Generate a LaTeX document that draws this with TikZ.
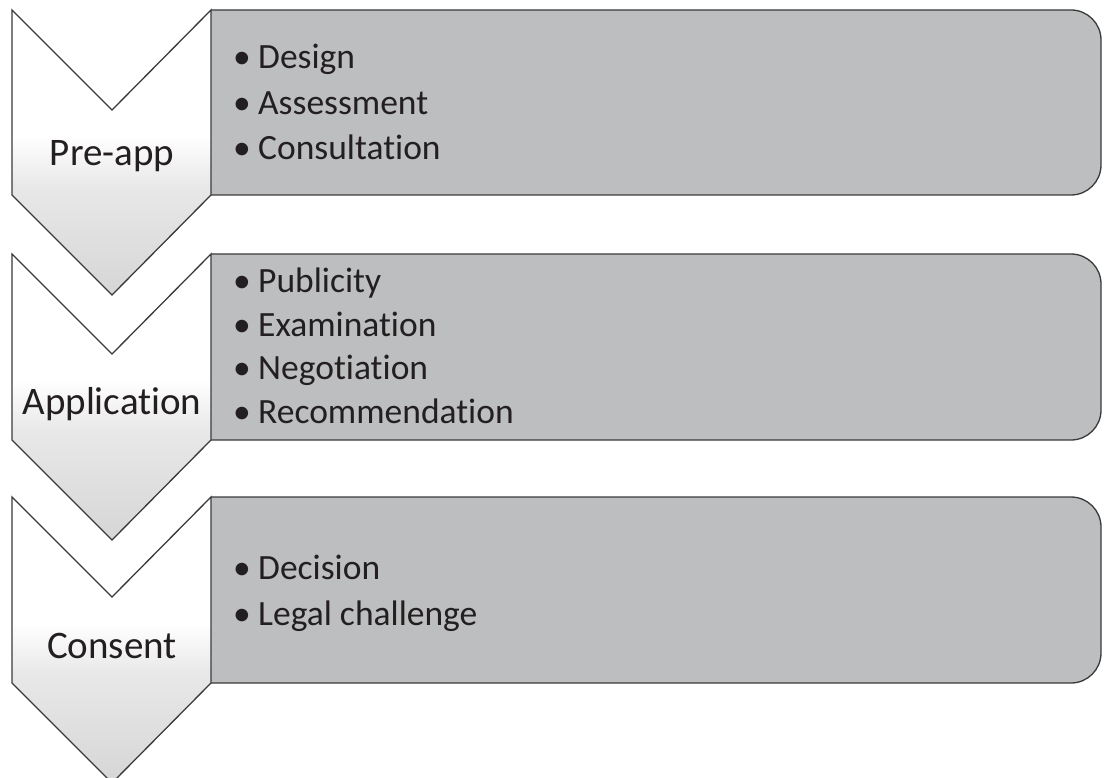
\documentclass[tikz,border=0pt]{standalone}
\usepackage{fontspec}
\setmainfont{Carlito}[Ligatures=NoCommon]
\definecolor{ink}{HTML}{231F20}
\definecolor{boxgray}{HTML}{BDBEC0}
\definecolor{edge}{HTML}{3A3A3A}
\definecolor{chevlow}{HTML}{D6D6D6}
\definecolor{chevmid}{HTML}{E8E8E8}
% white at the top of each chevron, fading to light grey at the tip
\pgfdeclareverticalshading{chevshade}{100bp}{%
  color(0bp)=(chevlow); color(25bp)=(chevlow); color(44bp)=(chevmid);
  color(53bp)=(white); color(100bp)=(white)}
\newcommand{\itm}[1]{\makebox[25pt][l]{•}#1}
\tikzset{
  chevron/.style={draw=edge, line width=1.3pt, line join=miter, shading=chevshade},
  stagebox/.style={draw=edge, fill=boxgray, line width=1.3pt, rounded corners=30pt},
  stagelabel/.style={text=ink, inner sep=0pt, anchor=base,
    font=\fontsize{39}{47}\selectfont},
  % anchored at the baseline of the last line
  itemlist/.style={text=ink, inner sep=0pt, anchor=base west, align=left,
    font=\fontsize{35.5}{45.5}\selectfont},
}
\begin{document}
\begin{tikzpicture}[x=1pt, y=-1pt]
\useasboundingbox (0,0) rectangle (1106,778);
\clip (0,0) rectangle (1106,778);

% grey item boxes, square on the left, rounded on the right
\filldraw[stagebox] (211,10)  -- (1101,10)  -- (1101,195) -- (211,195);
\filldraw[stagebox] (211,254) -- (1101,254) -- (1101,440) -- (211,440);
\filldraw[stagebox] (211,497) -- (1101,497) -- (1101,683) -- (211,683);

% chevrons
\path[chevron] (12,10) -- (112,110) -- (211,10) -- (211,195)
  -- (112,295) -- (12,195) -- cycle;
\path[chevron] (12,254) -- (112,354) -- (211,254) -- (211,440)
  -- (112,540) -- (12,440) -- cycle;
\path[chevron] (12,497) -- (112,597) -- (211,497) -- (211,683)
  -- (112,783) -- (12,683) -- cycle;

% stage names
\node[stagelabel] (lab1) at (112,166) {Pre-app};
\node[stagelabel] (lab2) at (112,414) {Application};
\node[stagelabel] (lab3) at (112,658) {Consent};

% item lists
\node[itemlist] (list1) at (233,160) {\itm{Design}\\\itm{Assessment}\\\itm{Consultation}};
\node[itemlist, font=\fontsize{35.5}{43.5}\selectfont] (list2) at (233,423)
  {\itm{Publicity}\\\itm{Examination}\\\itm{Negotiation}\\\itm{Recommendation}};
\node[itemlist] (list3) at (233,625) {\itm{Decision}\\\itm{Legal challenge}};
\end{tikzpicture}
\end{document}
